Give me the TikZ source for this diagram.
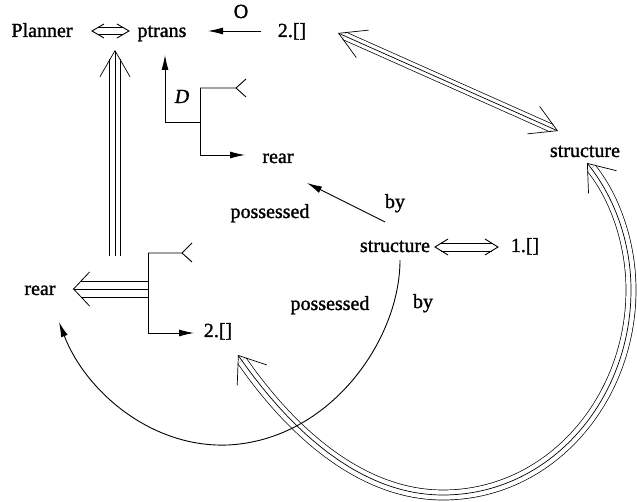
\documentclass[tikz,border=0pt]{standalone}
\usepackage{fontspec}
\setmainfont{Liberation Serif}[BoldFont=Liberation Serif, BoldItalicFont=Liberation Serif Italic, BoldFeatures={FakeBold=1.3}, BoldItalicFeatures={FakeBold=1.3}]
\usetikzlibrary{arrows.meta}
\begin{document}
\begin{tikzpicture}[x=1pt,y=-1pt, font=\fontsize{20}{24}\selectfont\bfseries,
  lbl/.style={anchor=base, inner sep=0pt},
  thin/.style={line width=0.9pt},
  fa/.style={thin, -{Latex[length=15pt,width=7pt]}},
  tri/.style 2 args={line width=0.7pt,
    preaction={draw, arrows=-, line width={2*#1+0.7pt}, shorten <=#2, shorten >=#2},
    preaction={draw, white, arrows=-, line width={2*#1-0.7pt}, shorten <=#2, shorten >=#2}},
]
\useasboundingbox (0,0) rectangle (637,502);

% texts
\node[lbl] (planner) at (42,37) {Planner};
\node[lbl] (ptrans) at (162,37) {ptrans};
\node[lbl] (two) at (292,37) {2.[]};
\node[lbl] (o) at (241,18) {O};
\node[lbl] (d) at (182,103) {\itshape D};
\node[lbl] (rearA) at (278,163) {rear};
\node[lbl] (structR) at (585,157) {structure};
\node[lbl] (byA) at (395,208) {by};
\node[lbl] (possA) at (270,218) {possessed};
\node[lbl] (structM) at (395,252) {structure};
\node[lbl] (one) at (525,252) {1.[]};
\node[lbl] (rearL) at (40,295) {rear};
\node[lbl] (twoL) at (218,337) {2.[]};
\node[lbl] (possB) at (330,310) {possessed};
\node[lbl] (byB) at (423,308) {by};

% coordinates
\coordinate (pp1) at (92,31);
\coordinate (pp2) at (129,31);
\coordinate (o1) at (261,31);
\coordinate (o2) at (208,31);
\coordinate (dg1) at (338,33);
\coordinate (dg2) at (558,131);
\coordinate (ut) at (200,88);
\coordinate (um) at (200,122);
\coordinate (ub) at (200,155);
\coordinate (uf) at (236,88);
\coordinate (ua) at (245,155);
\coordinate (dtip) at (165,55);
\coordinate (lt) at (148,253);
\coordinate (lm) at (148,289);
\coordinate (lb) at (148,333);
\coordinate (lf) at (182,253);
\coordinate (la) at (194,333);
\coordinate (rtip) at (73,289);
\coordinate (vb) at (115,266);
\coordinate (vt) at (115,50);
\coordinate (arcA) at (587,163);
\coordinate (arcB) at (238,355);
\coordinate (sm) at (400,260);
\coordinate (rl) at (59,322);
\coordinate (by1) at (385,222);
\coordinate (by2) at (307,183);
\coordinate (s1a) at (435,247);
\coordinate (s1b) at (498,247);

% outlined double arrows
\draw[thin] ([shift={(6pt,3.5pt)}]pp1) -- ([shift={(-6pt,3.5pt)}]pp2)
            ([shift={(6pt,-3.5pt)}]pp1) -- ([shift={(-6pt,-3.5pt)}]pp2);
\draw[thin] ([shift={(12pt,7pt)}]pp1) -- (pp1) -- ([shift={(12pt,-7pt)}]pp1)
            ([shift={(-12pt,7pt)}]pp2) -- (pp2) -- ([shift={(-12pt,-7pt)}]pp2);
\draw[thin] ([shift={(6pt,4pt)}]s1a) -- ([shift={(-6pt,4pt)}]s1b)
            ([shift={(6pt,-4pt)}]s1a) -- ([shift={(-6pt,-4pt)}]s1b);
\draw[thin] ([shift={(13pt,8pt)}]s1a) -- (s1a) -- ([shift={(13pt,-8pt)}]s1a)
            ([shift={(-13pt,8pt)}]s1b) -- (s1b) -- ([shift={(-13pt,-8pt)}]s1b);

% plain arrows
\draw[fa] (o1) -- (o2);
\draw[fa] (by1) -- (by2);

% upper branch
\draw[thin] (ut) -- (ub);
\draw[thin] (ut) -- (uf) -- ++(10,-9) (uf) -- ++(10,9);
\draw[fa] (ub) -- (ua);
\draw[fa] (um) -| (dtip);

% left branch
\draw[thin] (lt) -- (lb);
\draw[thin] (lt) -- (lf) -- ++(10,-10) (lf) -- ++(10,9);
\draw[fa] (lb) -- (la);

% triple arrow to left rear
\draw[line width=0.8pt] ([yshift=8pt]lm) -- ([shift={(8pt,8pt)}]rtip)
                        ([yshift=-8pt]lm) -- ([shift={(8pt,-8pt)}]rtip);
\draw[line width=0.8pt, arrows={-Straight Barb[length=16pt,width=34pt]}] (lm) -- (rtip);

% other triple arrows
\draw[tri={4pt}{7pt}, arrows={Straight Barb[length=26pt,width=30pt]-Straight Barb[length=26pt,width=30pt]}] (dg1) -- (dg2);
\draw[tri={5.5pt}{9.5pt}, shorten <=9.5pt, arrows={-Straight Barb[length=26pt,width=30pt]}] (vb) -- (vt);
\draw[tri={5pt}{7pt}, arrows={Straight Barb[length=24pt,width=36pt]-Straight Barb[length=24pt,width=36pt]}]
  (arcA) .. controls (613,195) and (631,240) .. (631,290)
  .. controls (631,400) and (550,495) .. (443,495)
  .. controls (360,495) and (290,430) .. (arcB);

% thin curve
\draw[fa] (sm) .. controls (400,340) and (330,440) .. (228,445) .. controls (150,448) and (85,390) .. (rl);
\end{tikzpicture}
\end{document}
